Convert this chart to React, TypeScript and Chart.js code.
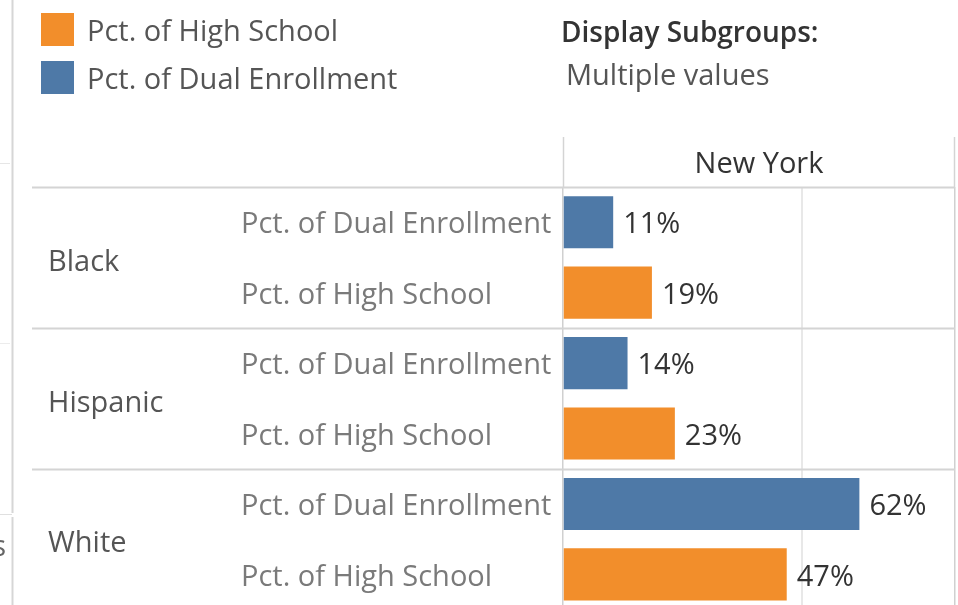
import React, { useEffect, useRef } from 'react';
import { Chart, registerables } from 'chart.js';
Chart.register(...registerables);

const groups = ['Black', 'Hispanic', 'White'];
const measureNames = ['Pct. of Dual Enrollment', 'Pct. of High School'];
const legendNames = ['Pct. of High School', 'Pct. of Dual Enrollment'];
const dualEnrollment = [10.5, 13.5, 62.0];
const highSchool = [18.6, 23.4, 46.8];
const headerLabel = 'New York';
const filterTitle = 'Display Subgroups:';
const filterValue = 'Multiple values';
const xMax = 82;
const gridStep = 50;

const BLUE = '#4E79A7';
const ORANGE = '#F28E2B';
const FONT = '"Open Sans", Lato, sans-serif';
const FS = 29;

const overlay = {
  id: 'overlay',
  afterDraw(chart: any) {
    const { ctx, chartArea, scales } = chart;
    const ys = scales.y;
    ctx.save();
    const line = (x1: number, y1: number, x2: number, y2: number, c: string, w: number) => {
      ctx.strokeStyle = c;
      ctx.lineWidth = w;
      ctx.beginPath();
      ctx.moveTo(x1, y1);
      ctx.lineTo(x2, y2);
      ctx.stroke();
    };
    // left dashboard frame remnants
    line(12.5, 0, 12.5, 513, '#d6d6d6', 2);
    line(12.5, 517, 12.5, 605, '#d6d6d6', 2);
    line(0, 163.5, 10, 163.5, '#e6e6e6', 1);
    line(0, 343.5, 10, 343.5, '#ececec', 1);
    line(0, 514.5, 12, 514.5, '#e0e0e0', 1);
    ctx.fillStyle = '#666';
    ctx.font = `${FS}px ${FONT}`;
    ctx.textBaseline = 'middle';
    ctx.textAlign = 'right';
    ctx.fillText('s', 6, 548);

    // row separators
    const half = (ys.getPixelForValue(1) - ys.getPixelForValue(0)) / 2;
    for (let i = 0; i < groups.length; i++) {
      const yy = Math.round(ys.getPixelForValue(i) - half) + 0.5;
      line(32, yy, chartArea.right, yy, '#d4d4d4', 2);
    }
    // header column lines
    const top = 137;
    line(chartArea.left + 0.5, top, chartArea.left + 0.5, chartArea.top, '#d4d4d4', 1.5);
    line(chartArea.right - 0.5, top, chartArea.right - 0.5, chartArea.top, '#d4d4d4', 1.5);

    // header label
    ctx.fillStyle = '#333';
    ctx.font = `500 ${FS}px ${FONT}`;
    ctx.textAlign = 'center';
    ctx.fillText(headerLabel, (chartArea.left + chartArea.right) / 2, 165);

    // legend
    const legendColors = [ORANGE, BLUE];
    legendNames.forEach((name, i) => {
      const yc = 30 + i * 48;
      ctx.fillStyle = legendColors[i];
      ctx.fillRect(41, yc - 17, 33, 33);
      ctx.fillStyle = '#555';
      ctx.font = `${FS}px ${FONT}`;
      ctx.textAlign = 'left';
      ctx.fillText(name, 87, yc + 3);
    });

    // filter
    ctx.fillStyle = '#333';
    ctx.font = `600 28px ${FONT}`;
    ctx.textAlign = 'left';
    ctx.fillText(filterTitle, 561, 34);
    ctx.fillStyle = '#555';
    ctx.font = `${FS}px ${FONT}`;
    ctx.fillText(filterValue, 566, 77);

    // measure names and values
    const sets = [dualEnrollment, highSchool];
    sets.forEach((vals, d) => {
      const meta = chart.getDatasetMeta(d);
      meta.data.forEach((bar: any, j: number) => {
        ctx.fillStyle = '#7a7a7a';
        ctx.font = `${FS}px ${FONT}`;
        ctx.textAlign = 'left';
        ctx.fillText(measureNames[d], 241, bar.y + 3);
        ctx.fillStyle = '#333';
        ctx.fillText(`${Math.round(vals[j])}%`, bar.x + 10, bar.y + 3);
      });
    });
    ctx.restore();
  },
};

export default function App() {
  const ref = useRef<HTMLCanvasElement>(null);
  useEffect(() => {
    if (!ref.current) return;
    const chart = new Chart(ref.current, {
      type: 'bar',
      data: {
        labels: groups,
        datasets: [
          { label: measureNames[0], data: dualEnrollment, backgroundColor: BLUE, categoryPercentage: 1, barPercentage: 0.74 },
          { label: measureNames[1], data: highSchool, backgroundColor: ORANGE, categoryPercentage: 1, barPercentage: 0.74 },
        ],
      },
      options: {
        indexAxis: 'y',
        animation: false,
        responsive: false,
        maintainAspectRatio: false,
        layout: { padding: { top: 187, bottom: 11, left: 48, right: 3 } },
        plugins: { legend: { display: false }, tooltip: { enabled: false } },
        scales: {
          x: {
            min: 0,
            max: xMax,
            ticks: { display: false, stepSize: gridStep },
            border: { display: false },
            grid: {
              drawTicks: false,
              color: (c: any) => (c.tick && c.tick.value === gridStep ? '#e8e8e8' : '#d0d0d0'),
              lineWidth: (c: any) => (c.tick && c.tick.value === gridStep ? 2 : 1.5),
            },
          },
          y: {
            border: { display: false },
            grid: { display: false, drawTicks: false },
            ticks: {
              crossAlign: 'far',
              color: '#555',
              font: { family: FONT, size: FS },
              labelOffset: 5,
            },
            afterFit: (s: any) => {
              s.width = 563 - 48;
            },
          },
        },
      },
      plugins: [overlay],
    });
    return () => chart.destroy();
  }, []);
  return (
    <div style={{ position: 'fixed', left: 0, top: 0, width: 958, height: 605, overflow: 'hidden', background: '#fff' }}>
      <canvas ref={ref} width={958} height={630} style={{ display: 'block' }} />
    </div>
  );
}
